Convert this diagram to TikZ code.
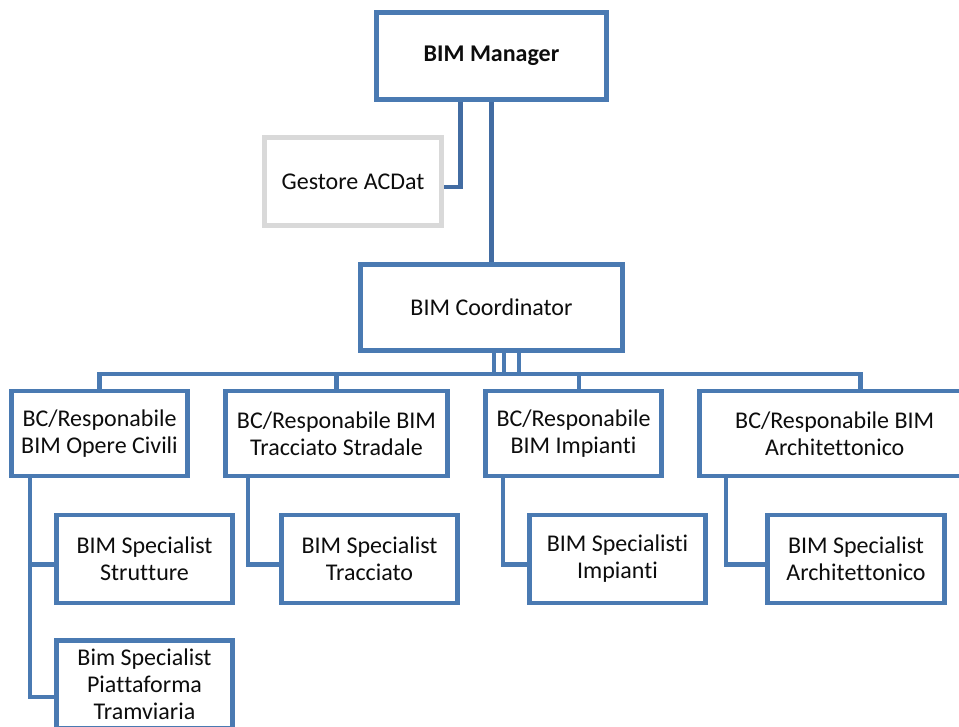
\documentclass[tikz,border=0pt]{standalone}
\usepackage{fontspec}
\setmainfont[RawFeature={-liga;-clig;-calt;-dlig;-rlig}]{Carlito}
\definecolor{boxblue}{RGB}{74,122,178}
\definecolor{connblue}{RGB}{66,108,162}
\definecolor{lgray}{RGB}{217,217,217}
\definecolor{txt}{RGB}{13,13,13}
\newcommand{\nl}{\kern0pt }
\begin{document}
\begin{tikzpicture}[x=1pt,y=-1pt,
  box/.style={draw=boxblue, line width=4.8pt, fill=white, align=center, inner sep=0pt,
    font=\fontsize{24}{27}\selectfont, text=txt},
  graybox/.style={box, draw=lgray},
  conn/.style={draw=connblue, line width=4.8pt, line join=miter},
  subconn/.style={draw=boxblue, line width=4.8pt, line join=miter}]
\useasboundingbox (0,0) rectangle (959,726);
\clip (0,0) rectangle (959,726);
\fill[white] (0,0) rectangle (959,726);

% nodes
\node[box, minimum width=230pt, minimum height=87pt] (mgr) at (491.5,56) {\bfseries BIM Manager};
\node[graybox, minimum width=177pt, minimum height=88pt] (ges) at (353,181.5) {Gestore ACDat};
\node[box, minimum width=262pt, minimum height=86pt] (coord) at (491.5,307.5) {BIM Coordinator};

\node[box, minimum width=176pt, minimum height=85pt] (b1) at (99.5,433.5) {BC/Responabile\\BIM Opere Civili};
\node[box, minimum width=222pt, minimum height=85pt] (b2) at (336.5,433.5) {BC/Responabile BIM\\Tracciato Stradale};
\node[box, minimum width=176pt, minimum height=85pt] (b3) at (573.5,433.5) {BC/Responabile\\BIM Impianti};
\node[box, minimum width=270.5pt, minimum height=85pt] (b4) at (834.75,433.5) {BC/Responabile BIM\\Archit\nl et\nl tonico};

\node[box, minimum width=176pt, minimum height=88pt] (s1) at (144.5,559) {BIM Specialist\\Strut\nl ture};
\node[box, minimum width=176pt, minimum height=88pt] (s2) at (369.5,559) {BIM Specialist\\Tracciato};
\node[box, minimum width=176pt, minimum height=88pt] (s3) at (617.5,559) {BIM Specialist\nl i\\Impianti};
\node[box, minimum width=177pt, minimum height=88pt] (s4) at (856,559) {BIM Specialist\\Archit\nl et\nl tonico};
\node[box, minimum width=176pt, minimum height=88pt] (s5) at (144.5,684.5) {Bim Specialist\\Piat\nl taforma\\Tramviaria};

% top connectors
\draw[conn] (mgr.south) -- (coord.north);
\coordinate (g1) at ([xshift=-31pt]mgr.south);
\coordinate (g2) at ([yshift=-5.5pt]ges.east);
\draw[conn] (g1) |- (g2);

% bus
\coordinate (bus) at ([yshift=-21pt]coord.south);
\coordinate (c1) at ([xshift=2.5pt]coord.south);
\coordinate (c2) at ([xshift=12.5pt]coord.south);
\coordinate (c3) at ([xshift=27.5pt]coord.south);
\coordinate (d3) at ([xshift=5.5pt]b3.north);
\coordinate (d4) at ([xshift=25.5pt]b4.north);
\draw[subconn] (b1.north) -- (b1.north |- bus) -- (d4 |- bus) -- (d4);
\draw[subconn] (b2.north) -- (b2.north |- bus);
\draw[subconn] (d3) -- (d3 |- bus);
\draw[subconn] (c1) -- (c1 |- bus);
\draw[subconn] (c2) -- (c2 |- bus);
\draw[subconn] (c3) -- (c3 |- bus);

% sub connectors
\coordinate (v1) at ([xshift=-69.5pt]b1.south);
\coordinate (v2) at ([xshift=-88.5pt]b2.south);
\coordinate (v3) at ([xshift=-70.5pt]b3.south);
\coordinate (v4) at ([xshift=-108.75pt]b4.south);
\coordinate (e1) at ([yshift=-5.5pt]s1.west);
\coordinate (e5) at ([yshift=-12.5pt]s5.west);
\coordinate (e2) at ([yshift=-5.5pt]s2.west);
\coordinate (e3) at ([yshift=-5.5pt]s3.west);
\coordinate (e4) at ([yshift=-5.5pt]s4.west);
\draw[subconn] (v1) |- (e5);
\draw[subconn] (v1 |- e1) -- (e1);
\draw[subconn] (v2) |- (e2);
\draw[subconn] (v3) |- (e3);
\draw[subconn] (v4) |- (e4);
\end{tikzpicture}
\end{document}
